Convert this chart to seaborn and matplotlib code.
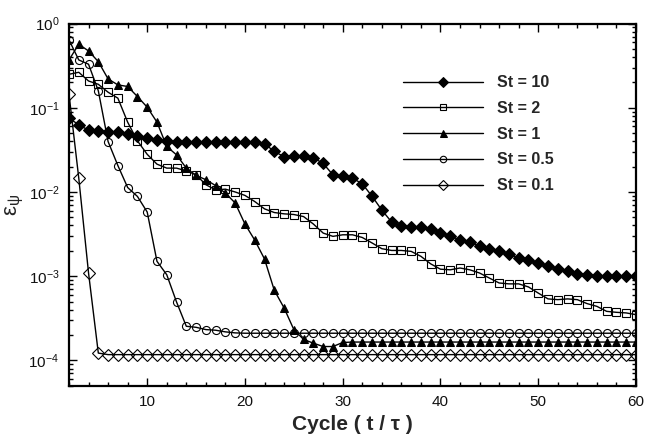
import matplotlib
matplotlib.use("Agg")
import matplotlib.pyplot as plt
from matplotlib.ticker import MultipleLocator, LogLocator, NullFormatter
import pandas as pd
import seaborn as sns

# Cycle numbers (t / tau)
cycles = list(range(2, 61))

# Error norm per cycle for each Stokes number
err_st10 = [0.075, 0.063, 0.054, 0.053, 0.052, 0.0515, 0.049, 0.0456, 0.0436, 0.0416,
            0.0401, 0.0394, 0.0394, 0.0394, 0.0395, 0.0395, 0.039, 0.039, 0.039, 0.039,
            0.0372, 0.0304, 0.0262, 0.0265, 0.0265, 0.0255, 0.0218, 0.016, 0.0155, 0.0146,
            0.0125, 0.0089, 0.0061, 0.0044, 0.0039, 0.00384, 0.00384, 0.00366, 0.0033, 0.00297,
            0.00271, 0.00252, 0.0023, 0.00212, 0.00197, 0.00181, 0.00166, 0.00154, 0.00143, 0.00133,
            0.00123, 0.00114, 0.00107, 0.00104, 0.00101, 0.0010, 0.0010, 0.0010, 0.0010]

err_st2 = [0.25, 0.264, 0.208, 0.19, 0.153, 0.13, 0.0675, 0.0405, 0.028, 0.0214,
           0.0192, 0.0192, 0.0178, 0.016, 0.0122, 0.0106, 0.0108, 0.0100, 0.0091, 0.0077,
           0.0063, 0.0057, 0.0055, 0.0054, 0.0051, 0.00416, 0.00325, 0.00297, 0.0031, 0.0031,
           0.00288, 0.00248, 0.00212, 0.00202, 0.00202, 0.00197, 0.00172, 0.0014, 0.00121, 0.00119,
           0.00125, 0.00119, 0.00109, 0.00095, 0.00083, 0.00081, 0.00081, 0.000745, 0.00063, 0.000537,
           0.000526, 0.000537, 0.000526, 0.000472, 0.000438, 0.000382, 0.000372, 0.000366, 0.000349]

err_st1 = [0.37, 0.568, 0.473, 0.353, 0.22, 0.187, 0.179, 0.136, 0.1016, 0.0675,
           0.0347, 0.0276, 0.0192, 0.0157, 0.014, 0.0119, 0.0097, 0.0074, 0.00416, 0.00268,
           0.0016, 0.00068, 0.00042, 0.000232, 0.000177, 0.00016, 0.000146, 0.000146, 0.000163, 0.000165,
           0.000165, 0.000165, 0.000165, 0.000165, 0.000165, 0.000165, 0.000165, 0.000165, 0.000165, 0.000165,
           0.000165, 0.000165, 0.000165, 0.000165, 0.000165, 0.000165, 0.000165, 0.000165, 0.000165, 0.000165,
           0.000165, 0.000165, 0.000165, 0.000165, 0.000165, 0.000165, 0.000165, 0.000165, 0.000165]

err_st05 = [0.64, 0.37, 0.329, 0.159, 0.0397, 0.0206, 0.0113, 0.00885, 0.00578, 0.0015,
            0.00104, 0.000494, 0.000254, 0.000247, 0.000232, 0.000228, 0.000218, 0.000212, 0.00021, 0.00021,
            0.00021, 0.00021, 0.00021, 0.00021, 0.00021, 0.00021, 0.00021, 0.00021, 0.00021, 0.00021,
            0.00021, 0.00021, 0.00021, 0.00021, 0.00021, 0.00021, 0.00021, 0.00021, 0.00021, 0.00021,
            0.00021, 0.00021, 0.00021, 0.00021, 0.00021, 0.00021, 0.00021, 0.00021, 0.00021, 0.00021,
            0.00021, 0.00021, 0.00021, 0.00021, 0.00021, 0.00021, 0.00021, 0.00021, 0.00021]

err_st01 = [0.145, 0.0146, 0.00109, 0.000122, 0.000117, 0.000117, 0.000117, 0.000117, 0.000117, 0.000117,
            0.000117, 0.000117, 0.000117, 0.000117, 0.000117, 0.000117, 0.000117, 0.000117, 0.000117, 0.000117,
            0.000117, 0.000117, 0.000117, 0.000117, 0.000117, 0.000117, 0.000117, 0.000117, 0.000117, 0.000117,
            0.000117, 0.000117, 0.000117, 0.000117, 0.000117, 0.000117, 0.000117, 0.000117, 0.000117, 0.000117,
            0.000117, 0.000117, 0.000117, 0.000117, 0.000117, 0.000117, 0.000117, 0.000117, 0.000117, 0.000117,
            0.000117, 0.000117, 0.000117, 0.000117, 0.000117, 0.000117, 0.000117, 0.000117, 0.000117]

series_labels = ["St = 10", "St = 2", "St = 1", "St = 0.5", "St = 0.1"]

sns.set_theme(style="white")
plt.rcParams["font.family"] = ["Liberation Sans", "DejaVu Sans"]
plt.rcParams["mathtext.fontset"] = "custom"
plt.rcParams["mathtext.rm"] = "Liberation Sans"
plt.rcParams["mathtext.it"] = "Liberation Sans:italic"
plt.rcParams["mathtext.default"] = "regular"

fig = plt.figure(figsize=(6.46, 4.40), dpi=100)
ax = fig.add_axes([0.1068, 0.1234, 0.8777, 0.8230])

styles = [
    dict(marker="D", ms=6.0, mfc="black", mec="black"),
    dict(marker="s", ms=5.8, mfc="none", mec="black", mew=0.8),
    dict(marker="^", ms=6.3, mfc="black", mec="black"),
    dict(marker="o", ms=5.8, mfc="none", mec="black", mew=0.8),
    dict(marker="D", ms=6.6, mfc="none", mec="black", mew=0.8),
]
all_series = [err_st10, err_st2, err_st1, err_st05, err_st01]

for values, label, st in zip(all_series, series_labels, styles):
    df = pd.DataFrame({"cycle": cycles, "err": values})
    sns.lineplot(data=df, x="cycle", y="err", ax=ax, color="black",
                 linewidth=1.0, label=label, **st)

ax.set_yscale("log")
ax.set_xlim(2, 60)
ax.set_ylim(5e-5, 1)

ax.xaxis.set_major_locator(MultipleLocator(10))
ax.xaxis.set_minor_locator(MultipleLocator(2))
ax.yaxis.set_major_locator(LogLocator(base=10, numticks=10))
ax.yaxis.set_minor_locator(LogLocator(base=10, subs=range(2, 10), numticks=20))
ax.yaxis.set_minor_formatter(NullFormatter())

ax.tick_params(which="both", direction="in", top=True, right=True,
               bottom=True, left=True, width=1.0, colors="black",
               labelsize=11, labelcolor="#111111")
ax.tick_params(which="major", length=6, pad=7)
ax.tick_params(which="minor", length=3)

for sp in ax.spines.values():
    sp.set_linewidth(1.6)
    sp.set_color("black")

ax.set_xlabel("Cycle ( t / τ )", fontsize=15, fontweight="bold", labelpad=4)
ax.set_ylabel(r"$\epsilon_{\psi}$", fontsize=16, labelpad=2)

leg = ax.legend(loc="upper left", bbox_to_anchor=(0.589, 0.857), frameon=False,
                prop=dict(family="Liberation Sans", weight="bold", size=11.5),
                handlelength=5.0, handletextpad=0.9, labelspacing=0.67,
                markerscale=0.8, borderpad=0, borderaxespad=0)

fig.savefig("out.png", dpi=100)
